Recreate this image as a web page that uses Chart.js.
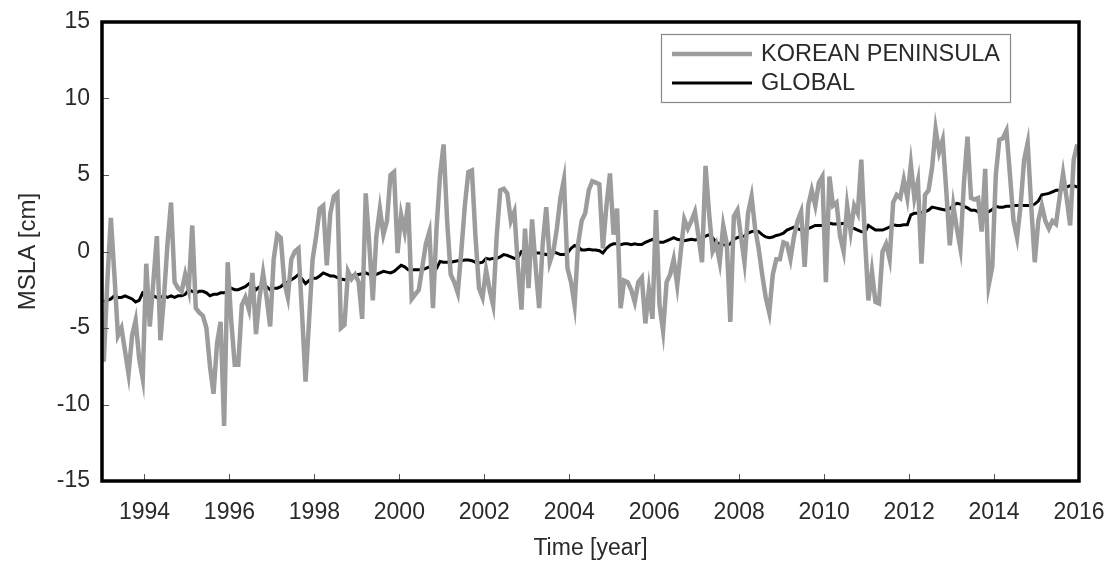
<!DOCTYPE html>
<html>
<head>
<meta charset="utf-8">
<script src="https://cdn.jsdelivr.net/npm/chart.js@4.4.1/dist/chart.umd.min.js"></script>
<style>
  html, body { margin: 0; padding: 0; background: #fff; }
  canvas { display: block; }
</style>
</head>
<body>
<canvas id="c" width="1114" height="562"></canvas>
<script>
// Monthly mean sea level anomaly, Jan 1993 - Dec 2015 (cm)
const startYear = 1993;
const yearTicks = [1994, 1996, 1998, 2000, 2002, 2004, 2006, 2008, 2010, 2012, 2014, 2016];
const mslaTicks = [-15, -10, -5, 0, 5, 10, 15];
const seriesNames = ['KOREAN PENINSULA', 'GLOBAL'];

const koreanPeninsula = [
  -7.2, -2.0, 2.2, -1.5, -5.5, -5.0, -6.5, -8.0, -5.5, -4.5, -7.0, -8.3,   // 1993
  -0.8, -4.9, -2.0, 1.0, -5.8, -3.0, 0.5, 3.2, -2.0, -2.4, -2.6, -1.5,     // 1994
  -2.5, 1.7, -3.7, -4.0, -4.2, -5.0, -7.5, -9.3, -6.0, -4.6, -11.4, -0.7,  // 1995
  -4.5, -7.4, -7.4, -3.5, -3.0, -3.8, -1.4, -5.4, -3.0, -1.4, -3.0, -4.9,  // 1996
  -0.5, 1.1, 0.9, -2.0, -3.0, -0.5, 0.0, 0.2, -4.0, -8.5, -4.5, -0.5,      // 1997
  1.0, 2.8, 3.0, -0.9, 2.5, 3.6, 3.8, -5.0, -4.8, -1.3, -1.8, -1.5,        // 1998
  -2.0, -4.4, 3.8, 0.5, -3.2, 1.0, 2.8, 1.1, 2.0, 5.0, 5.2, -0.1,          // 1999
  2.4, 1.3, 3.2, -3.1, -2.8, -2.5, -1.0, 0.5, 1.3, -3.7, 1.5, 5.0,         // 2000
  7.0, 2.0, -1.5, -2.0, -2.7, 0.0, 3.0, 5.2, 5.3, 1.0, -2.4, -3.0,         // 2001
  -1.2, -2.5, -3.5, 1.0, 4.0, 4.1, 3.8, 2.0, 2.6, -1.0, -3.8, 1.5,         // 2002
  -2.4, 2.1, -1.0, -3.7, 0.5, 2.9, -0.7, 0.0, 1.5, 3.5, 4.7, -1.1,         // 2003
  -2.0, -3.5, 0.5, 2.0, 2.5, 4.0, 4.6, 4.5, 4.4, 0.2, 3.0, 5.1,            // 2004
  1.1, 2.8, -3.7, -1.9, -2.0, -2.5, -3.3, -2.0, -1.7, -4.7, -2.5, -4.4,    // 2005
  2.7, -3.5, -5.2, -2.0, -1.5, -0.5, -2.2, 0.0, 2.1, 1.5, 2.0, 2.6,        // 2006
  1.0, -0.7, 5.6, 2.5, 0.0, 0.5, -0.7, 1.7, 0.5, -4.6, 2.3, 2.7,           // 2007
  1.0, -0.7, 2.5, 3.6, 1.5, 0.2, -1.5, -3.0, -4.0, -1.5, -0.5, -0.5,       // 2008
  0.6, 0.5, -0.5, 1.0, 2.0, 2.6, -1.0, 3.0, 4.0, 3.0, 4.5, 4.9,            // 2009
  -2.0, 4.9, 3.0, 3.2, 1.0, 0.0, 3.0, 1.3, 3.0, 2.5, 6.0, 1.0,             // 2010
  -3.2, -1.3, -3.3, -3.4, 0.0, 0.5, -0.5, 3.2, 3.7, 3.5, 4.7, 3.5,         // 2011
  5.7, 3.5, 4.6, -0.8, 3.7, 4.0, 5.5, 8.0, 6.5, 7.3, 4.0, 0.4,             // 2012
  3.0, 1.5, 0.2, 4.5, 7.5, 3.5, 3.4, 3.5, 1.3, 5.4, -2.2, -1.0,            // 2013
  5.0, 7.3, 7.4, 7.9, 5.0, 2.0, 0.9, 3.0, 6.0, 7.1, 3.0, -0.7,             // 2014
  2.0, 3.0, 2.0, 1.5, 2.0, 1.8, 3.5, 5.1, 3.5, 1.7, 6.0, 7.0               // 2015
];

const globalMean = [
  -3.3, -3.2, -3.1, -2.9, -3.0, -3.0, -2.9, -3.0, -3.1, -3.3, -3.2, -2.7,  // 1993
  -2.8, -2.8, -2.9, -3.0, -3.0, -2.9, -3.0, -2.9, -3.0, -2.9, -2.9, -2.8,  // 1994
  -2.5, -2.6, -2.7, -2.6, -2.6, -2.7, -2.9, -2.8, -2.8, -2.7, -2.7, -2.6,  // 1995
  -2.4, -2.5, -2.5, -2.4, -2.3, -2.1, -2.2, -2.5, -2.3, -2.2, -2.3, -2.5,  // 1996
  -2.4, -2.4, -2.3, -2.1, -2.0, -1.85, -1.7, -1.5, -1.8, -2.1, -1.9, -1.75, // 1997
  -1.75, -1.6, -1.4, -1.5, -1.6, -1.6, -1.7, -1.8, -1.85, -1.8, -1.6, -1.5, // 1998
  -1.5, -1.45, -1.4, -1.5, -1.6, -1.5, -1.4, -1.3, -1.35, -1.4, -1.3, -1.1, // 1999
  -0.9, -1.0, -1.2, -1.2, -1.2, -1.2, -1.2, -1.1, -1.0, -1.05, -1.1, -0.65, // 2000
  -0.7, -0.7, -0.7, -0.65, -0.6, -0.6, -0.55, -0.55, -0.6, -0.7, -0.75, -0.7, // 2001
  -0.45, -0.5, -0.45, -0.45, -0.35, -0.2, -0.25, -0.35, -0.45, -0.4, 0.0, 0.1, // 2002
  0.1, 0.0, -0.1, -0.1, -0.15, -0.2, -0.1, 0.0, -0.1, -0.2, -0.2, -0.1,    // 2003
  0.2, 0.4, 0.3, 0.1, 0.1, 0.15, 0.1, 0.1, 0.05, -0.1, 0.2, 0.4,           // 2004
  0.5, 0.5, 0.45, 0.5, 0.5, 0.45, 0.5, 0.45, 0.45, 0.6, 0.7, 0.8,          // 2005
  0.7, 0.6, 0.6, 0.7, 0.8, 0.9, 0.8, 0.75, 0.7, 0.75, 0.8, 0.75,           // 2006
  0.8, 0.9, 1.0, 1.1, 0.9, 0.6, 0.5, 0.45, 0.4, 0.5, 0.8, 0.9,             // 2007
  1.0, 1.0, 1.2, 1.3, 1.35, 1.3, 1.1, 0.95, 0.9, 0.95, 1.05, 1.1,          // 2008
  1.2, 1.4, 1.5, 1.6, 1.5, 1.4, 1.4, 1.5, 1.6, 1.7, 1.7, 1.7,              // 2009
  1.7, 1.85, 1.8, 1.8, 1.8, 1.85, 1.8, 1.55, 1.5, 1.4, 1.3, 1.25,          // 2010
  1.7, 1.55, 1.4, 1.4, 1.4, 1.5, 1.6, 1.75, 1.7, 1.7, 1.75, 1.75,          // 2011
  2.4, 2.5, 2.5, 2.55, 2.6, 2.7, 2.9, 2.85, 2.8, 2.75, 2.7, 2.8,           // 2012
  3.0, 3.15, 3.1, 2.95, 2.85, 2.7, 2.7, 2.6, 2.55, 2.5, 2.6, 2.75,         // 2013
  2.95, 2.9, 2.9, 2.95, 2.95, 3.0, 3.0, 3.05, 3.0, 3.0, 3.0, 3.1,          // 2014
  3.3, 3.7, 3.75, 3.8, 3.9, 4.0, 4.0, 4.1, 4.2, 4.3, 4.3, 4.2              // 2015
];

// mid-month time stamps in decimal years
const toPoints = arr => arr.map((v, i) => ({ x: startYear + (i + 0.5) / 12, y: v }));

const FONT = '"Liberation Sans", Arial, Helvetica, sans-serif';
const TEXT = '#2a2a2a';

// thick frame around the plot area plus inward tick marks
const framePlugin = {
  id: 'frame',
  afterDatasetsDraw(chart) {
    const { ctx, chartArea: a, scales } = chart;
    ctx.save();
    ctx.strokeStyle = '#555';
    ctx.lineWidth = 1;
    ctx.beginPath();
    scales.x.ticks.forEach(t => {
      const px = Math.round(scales.x.getPixelForValue(t.value)) + 0.5;
      ctx.moveTo(px, a.bottom);
      ctx.lineTo(px, a.bottom - 7);
    });
    scales.y.ticks.forEach(t => {
      const py = Math.round(scales.y.getPixelForValue(t.value)) + 0.5;
      ctx.moveTo(a.left, py);
      ctx.lineTo(a.left + 7, py);
    });
    ctx.stroke();
    ctx.strokeStyle = '#000';
    ctx.lineWidth = 3.5;
    ctx.strokeRect(a.left, a.top, a.right - a.left, a.bottom - a.top);
    ctx.restore();
  }
};

// boxed legend in the upper right of the plot
const legendPlugin = {
  id: 'boxLegend',
  afterDraw(chart) {
    const { ctx } = chart;
    const bx = 661, by = 34, bw = 349, bh = 68;
    ctx.save();
    ctx.fillStyle = '#fff';
    ctx.fillRect(bx, by, bw, bh);
    ctx.strokeStyle = '#888';
    ctx.lineWidth = 1.2;
    ctx.strokeRect(bx + 0.5, by + 0.5, bw, bh);
    ctx.font = '23.5px ' + FONT;
    ctx.textBaseline = 'middle';
    chart.data.datasets.forEach((ds, i) => {
      const y = by + 20 + i * 29;
      ctx.strokeStyle = ds.borderColor;
      ctx.lineWidth = ds.borderWidth;
      ctx.beginPath();
      ctx.moveTo(672, y);
      ctx.lineTo(752, y);
      ctx.stroke();
      ctx.fillStyle = TEXT;
      ctx.fillText(ds.label, 761, y + 1);
    });
    ctx.restore();
  }
};

new Chart(document.getElementById('c'), {
  type: 'line',
  data: {
    datasets: [
      {
        label: seriesNames[0],
        data: toPoints(koreanPeninsula),
        borderColor: '#9c9c9c',
        borderWidth: 4.5,
        pointRadius: 0,
        tension: 0
      },
      {
        label: seriesNames[1],
        data: toPoints(globalMean),
        borderColor: '#000000',
        borderWidth: 3,
        pointRadius: 0,
        tension: 0
      }
    ]
  },
  options: {
    responsive: false,
    animation: false,
    devicePixelRatio: 1,
    layout: { padding: { top: 22, right: 35, left: 0, bottom: 0 } },
    plugins: {
      legend: { display: false },
      tooltip: { enabled: false }
    },
    scales: {
      x: {
        type: 'linear',
        min: 1993,
        max: 2016,
        afterBuildTicks: s => { s.ticks = yearTicks.map(v => ({ value: v })); },
        afterFit: s => { s.height = 81; s.paddingLeft = 0; s.paddingRight = 0; },
        grid: { display: false, drawTicks: false },
        border: { display: false },
        ticks: {
          autoSkip: false,
          maxRotation: 0,
          padding: 18,
          color: TEXT,
          font: { family: FONT, size: 23 },
          callback: v => String(v)
        },
        title: {
          display: true,
          text: 'Time [year]',
          color: TEXT,
          font: { family: FONT, size: 23 },
          padding: { top: 0, bottom: 0 }
        }
      },
      y: {
        min: -15,
        max: 15,
        afterBuildTicks: s => { s.ticks = mslaTicks.map(v => ({ value: v })); },
        afterFit: s => { s.width = 102; s.paddingTop = 0; s.paddingBottom = 0; },
        grid: { display: false, drawTicks: false },
        border: { display: false },
        ticks: {
          padding: 12,
          color: TEXT,
          font: { family: FONT, size: 23 }
        },
        title: {
          display: true,
          text: 'MSLA [cm]',
          color: TEXT,
          font: { family: FONT, size: 24 },
          padding: { top: 14, bottom: 0 }
        }
      }
    }
  },
  plugins: [framePlugin, legendPlugin]
});
</script>
</body>
</html>
